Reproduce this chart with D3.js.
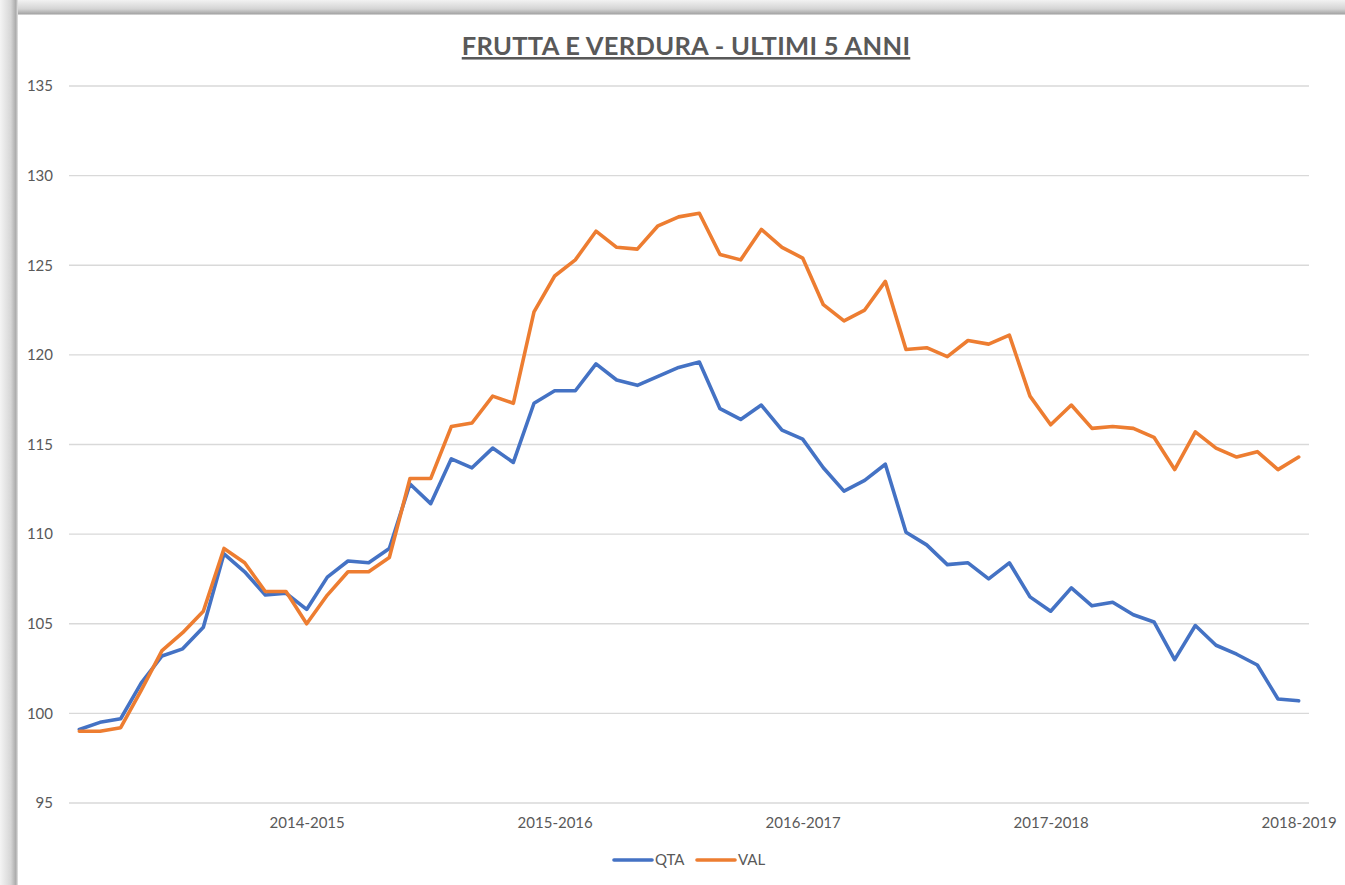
<!DOCTYPE html>
<html>
<head>
<meta charset="utf-8">
<script src="https://cdn.jsdelivr.net/npm/d3@7"></script>
<style>
  html, body { margin: 0; padding: 0; background: #ffffff; }
  svg { display: block; }
</style>
</head>
<body>
<div id="chart"></div>
<script>
// periodi mostrati sull'asse (uno ogni 12 mesi)
const periods = ["2014-2015", "2015-2016", "2016-2017", "2017-2018", "2018-2019"];
const periodTicks = [11, 23, 35, 47, 59];

// serie mensili (60 mesi)
const qta = [
  99.1, 99.5, 99.7, 101.7, 103.2, 103.6, 104.8, 108.9, 107.9, 106.6,
  106.7, 105.8, 107.6, 108.5, 108.4, 109.2, 112.8, 111.7, 114.2, 113.7,
  114.8, 114.0, 117.3, 118.0, 118.0, 119.5, 118.6, 118.3, 118.8, 119.3,
  119.6, 117.0, 116.4, 117.2, 115.8, 115.3, 113.7, 112.4, 113.0, 113.9,
  110.1, 109.4, 108.3, 108.4, 107.5, 108.4, 106.5, 105.7, 107.0, 106.0,
  106.2, 105.5, 105.1, 103.0, 104.9, 103.8, 103.3, 102.7, 100.8, 100.7
];
const val = [
  99.0, 99.0, 99.2, 101.3, 103.5, 104.5, 105.7, 109.2, 108.4, 106.8,
  106.8, 105.0, 106.6, 107.9, 107.9, 108.7, 113.1, 113.1, 116.0, 116.2,
  117.7, 117.3, 122.4, 124.4, 125.3, 126.9, 126.0, 125.9, 127.2, 127.7,
  127.9, 125.6, 125.3, 127.0, 126.0, 125.4, 122.8, 121.9, 122.5, 124.1,
  120.3, 120.4, 119.9, 120.8, 120.6, 121.1, 117.7, 116.1, 117.2, 115.9,
  116.0, 115.9, 115.4, 113.6, 115.7, 114.8, 114.3, 114.6, 113.6, 114.3
];
const yTicks = [95, 100, 105, 110, 115, 120, 125, 130, 135];

const series = [
  { name: "QTA", values: qta, color: "#4472c4" },
  { name: "VAL", values: val, color: "#ed7d31" }
];

const width = 1345;
const height = 885;
const font = "Lato, 'Open Sans', sans-serif";

const svg = d3.select("#chart")
  .append("svg")
  .attr("width", width)
  .attr("height", height);

// ombra della cornice (in alto e a sinistra)
const defs = svg.append("defs");
const gTop = defs.append("linearGradient").attr("id", "shTop").attr("x1", 0).attr("y1", 0).attr("x2", 0).attr("y2", 1);
gTop.append("stop").attr("offset", "0%").attr("stop-color", "#f2f2f2");
gTop.append("stop").attr("offset", "60%").attr("stop-color", "#d4d4d4");
gTop.append("stop").attr("offset", "90%").attr("stop-color", "#a9a9a9");
gTop.append("stop").attr("offset", "100%").attr("stop-color", "#e0e0e0");
const gLeft = defs.append("linearGradient").attr("id", "shLeft").attr("x1", 0).attr("y1", 0).attr("x2", 1).attr("y2", 0);
gLeft.append("stop").attr("offset", "0%").attr("stop-color", "#f4f4f4");
gLeft.append("stop").attr("offset", "60%").attr("stop-color", "#d6d6d6");
gLeft.append("stop").attr("offset", "88%").attr("stop-color", "#ababab");
gLeft.append("stop").attr("offset", "100%").attr("stop-color", "#e6e6e6");

svg.append("rect").attr("x", 0).attr("y", 0).attr("width", width).attr("height", 15).attr("fill", "url(#shTop)");
svg.append("rect").attr("x", 0).attr("y", 0).attr("width", 18).attr("height", height).attr("fill", "url(#shLeft)");
svg.append("rect").attr("x", 18).attr("y", 15).attr("width", width - 18).attr("height", height - 15).attr("fill", "#ffffff");

// scale
const x = d3.scalePoint()
  .domain(d3.range(qta.length))
  .range([69, 1309])
  .padding(0.5);

const y = d3.scaleLinear()
  .domain([95, 135])
  .range([803, 86]);

// griglia orizzontale
svg.append("g")
  .selectAll("line")
  .data(yTicks)
  .enter()
  .append("line")
  .attr("x1", 69)
  .attr("x2", 1309)
  .attr("y1", d => y(d))
  .attr("y2", d => y(d))
  .attr("stroke", "#d9d9d9")
  .attr("stroke-width", 1.3);

// asse y (solo etichette)
const yAxis = svg.append("g")
  .attr("transform", "translate(57,0)")
  .call(d3.axisLeft(y).tickValues(yTicks).tickSize(0).tickPadding(4));
yAxis.select(".domain").remove();
yAxis.selectAll("text")
  .attr("fill", "#595959")
  .style("font-family", font)
  .style("font-size", "15px");

// asse x (etichette dei periodi)
const xAxis = svg.append("g")
  .attr("transform", "translate(0,803)")
  .call(d3.axisBottom(x)
    .tickValues(periodTicks)
    .tickFormat((d, i) => periods[i])
    .tickSize(0)
    .tickPadding(14));
xAxis.select(".domain").remove();
xAxis.selectAll("text")
  .attr("fill", "#595959")
  .style("font-family", font)
  .style("font-size", "15px");

// linee
const line = d3.line()
  .x((d, i) => x(i))
  .y(d => y(d));

svg.append("g")
  .selectAll("path")
  .data(series)
  .enter()
  .append("path")
  .attr("d", d => line(d.values))
  .attr("fill", "none")
  .attr("stroke", d => d.color)
  .attr("stroke-width", 3.6)
  .attr("stroke-linejoin", "round")
  .attr("stroke-linecap", "round");

// titolo
svg.append("text")
  .attr("x", 686)
  .attr("y", 55)
  .attr("text-anchor", "middle")
  .attr("fill", "#595959")
  .style("font-family", font)
  .style("font-weight", "bold")
  .style("font-size", "25.5px")
  .style("letter-spacing", "0.3px")
  .style("text-decoration", "underline")
  .text("FRUTTA E VERDURA - ULTIMI 5 ANNI");

// legenda
const legend = svg.append("g")
  .selectAll("g")
  .data(series)
  .enter()
  .append("g")
  .attr("transform", (d, i) => `translate(${614 + i * 83},860)`);

legend.append("line")
  .attr("x1", 0)
  .attr("x2", 38)
  .attr("stroke", d => d.color)
  .attr("stroke-width", 3.6)
  .attr("stroke-linecap", "round");

legend.append("text")
  .attr("x", 41)
  .attr("dy", "0.35em")
  .attr("fill", "#595959")
  .style("font-family", font)
  .style("font-size", "15px")
  .text(d => d.name);
</script>
</body>
</html>
